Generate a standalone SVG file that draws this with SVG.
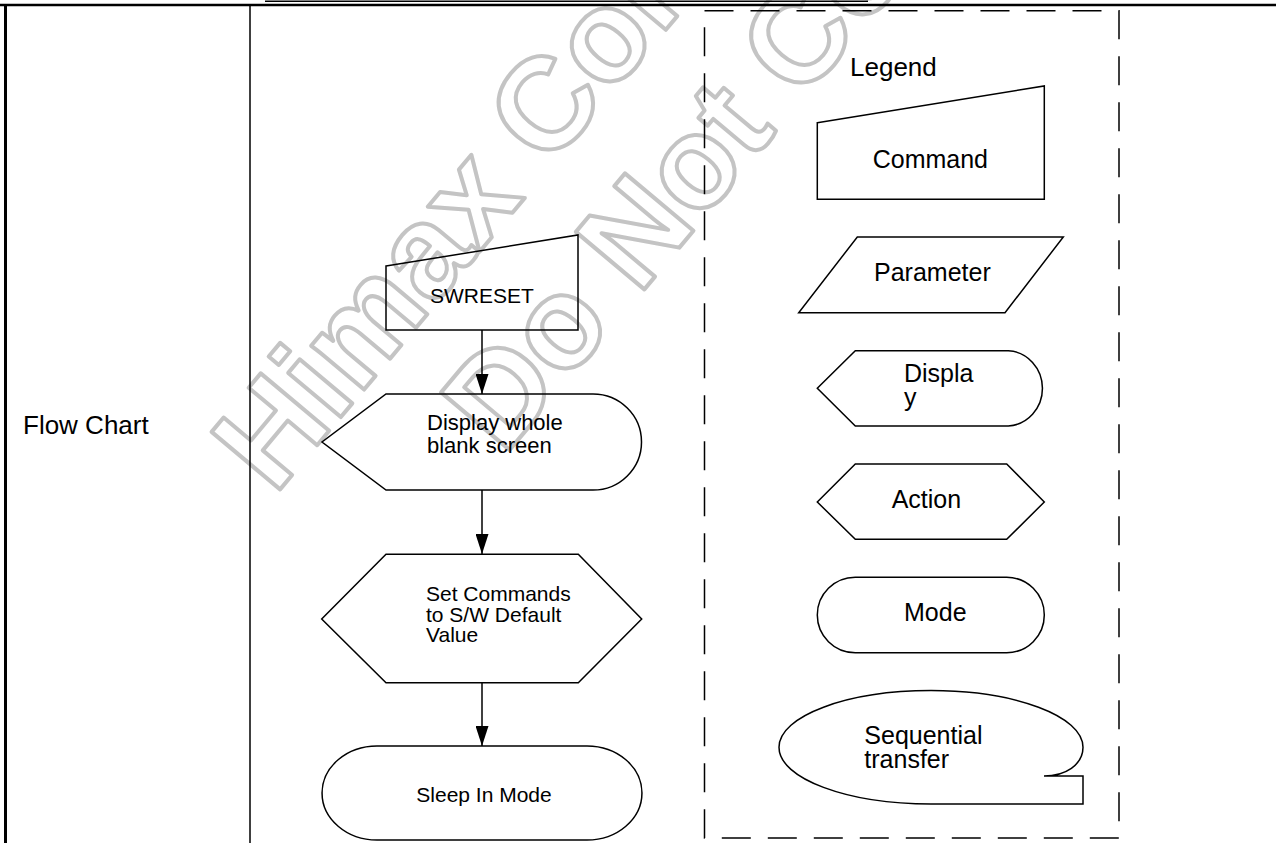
<svg xmlns="http://www.w3.org/2000/svg" width="1276" height="843" viewBox="0 0 1276 843">
<style>
.shape{fill:none;stroke:#000;stroke-width:1.5;stroke-linejoin:miter}
.t{font-family:"Liberation Sans",Arial,sans-serif;fill:#000}
.wm{font-family:"Liberation Sans",Arial,sans-serif;font-weight:bold;font-size:130px;fill:none;stroke:#c4c4c4;stroke-width:4;stroke-linejoin:round}
.conn{stroke:#000;stroke-width:1.5;fill:none}
</style>
<defs>
<marker id="arr" markerUnits="userSpaceOnUse" markerWidth="20" markerHeight="13" refX="20" refY="6.5" orient="auto" viewBox="0 0 20 13">
<path d="M0,0 L20,6.5 L0,13 Z" fill="#000"/>
</marker>
</defs>
<rect width="1276" height="843" fill="#fff"/>
<g id="watermark">
<text class="wm" text-anchor="middle" transform="translate(653,45) rotate(-50)">Himax Confidential</text>
<text class="wm" text-anchor="middle" transform="translate(757,155) rotate(-50)">Do Not Copy</text>
</g>
<g id="table">
<line x1="265" y1="1.2" x2="868" y2="1.2" stroke="#000" stroke-width="1.5"/>
<line x1="0" y1="5" x2="1276" y2="5" stroke="#000" stroke-width="2.5"/>
<line x1="5.5" y1="4" x2="5.5" y2="843" stroke="#000" stroke-width="3"/>
<line x1="250" y1="5" x2="250" y2="843" stroke="#000" stroke-width="1.5"/>
<text class="t" x="23" y="434" font-size="26">Flow Chart</text>
</g>
<g id="legend-box">
<rect x="704.5" y="10.7" width="414.5" height="827.3" fill="none" stroke="#000" stroke-width="1.5" stroke-dasharray="29 17"/>
<text class="t" x="850" y="76" font-size="26">Legend</text>
</g>
<g id="swreset">
<polygon class="shape" points="386,266 578,235 578,330 386,330"/>
<text class="t" x="430" y="303" font-size="21">SWRESET</text>
</g>
<g id="display-blank">
<path class="shape" d="M386,394 L593,394 A48.5 48 0 0 1 593,490 L386,490 L322,442 Z"/>
<text class="t" x="427" y="430" font-size="22">Display whole</text>
<text class="t" x="427" y="452.7" font-size="22">blank screen</text>
</g>
<g id="set-commands">
<polygon class="shape" points="386,554.3 578.3,554.3 641.7,619 578.3,682.7 386,682.7 321.7,619"/>
<text class="t" x="426" y="601" font-size="21">Set Commands</text>
<text class="t" x="426" y="621.7" font-size="21">to S/W Default</text>
<text class="t" x="426" y="642.3" font-size="21">Value</text>
</g>
<g id="sleep-in">
<path class="shape" d="M377,746 L587,746 A55 47 0 0 1 587,840 L377,840 A55 47 0 0 1 377,746 Z"/>
<text class="t" x="484" y="801.7" font-size="21" text-anchor="middle">Sleep In Mode</text>
</g>
<g id="connectors">
<line class="conn" x1="482" y1="330" x2="482" y2="394" marker-end="url(#arr)"/>
<line class="conn" x1="482" y1="490" x2="482" y2="554" marker-end="url(#arr)"/>
<line class="conn" x1="482" y1="683" x2="482" y2="746" marker-end="url(#arr)"/>
</g>
<g id="legend-command">
<polygon class="shape" points="817.3,122.7 1044.3,86 1044.3,199.3 817.3,199.3"/>
<text class="t" x="872.7" y="168.3" font-size="25">Command</text>
</g>
<g id="legend-parameter">
<polygon class="shape" points="857.3,237 1063.3,237 1005,312.7 798.7,312.7"/>
<text class="t" x="874" y="280.7" font-size="25">Parameter</text>
</g>
<g id="legend-display">
<path class="shape" d="M855.3,350.7 L1008.3,350.7 A36 37.7 0 0 1 1008.3,426 L855.3,426 L817.3,388.3 Z"/>
<text class="t" x="904" y="381.7" font-size="25">Displa</text>
<text class="t" x="904" y="406" font-size="25">y</text>
</g>
<g id="legend-action">
<polygon class="shape" points="855.3,464 1006.7,464 1044.3,502 1006.7,539.3 855.3,539.3 817.3,502"/>
<text class="t" x="891.7" y="507.7" font-size="25">Action</text>
</g>
<g id="legend-mode">
<path class="shape" d="M855.3,577.3 L1006.7,577.3 A37.6 37.7 0 0 1 1006.7,652.7 L855.3,652.7 A38 37.7 0 0 1 855.3,577.3 Z"/>
<text class="t" x="904" y="621" font-size="25">Mode</text>
</g>
<g id="legend-sequential">
<path class="shape" d="M931,804 C847,804 779,778.6 779,747.3 C779,716 847,690.6 931,690.6 C1015,690.6 1083,716 1083,747.3 C1083,765 1065,776 1044,776 L1083,776 L1083,804 Z"/>
<text class="t" x="864.3" y="744.3" font-size="25">Sequential</text>
<text class="t" x="864.3" y="768.3" font-size="25">transfer</text>
</g>
</svg>
